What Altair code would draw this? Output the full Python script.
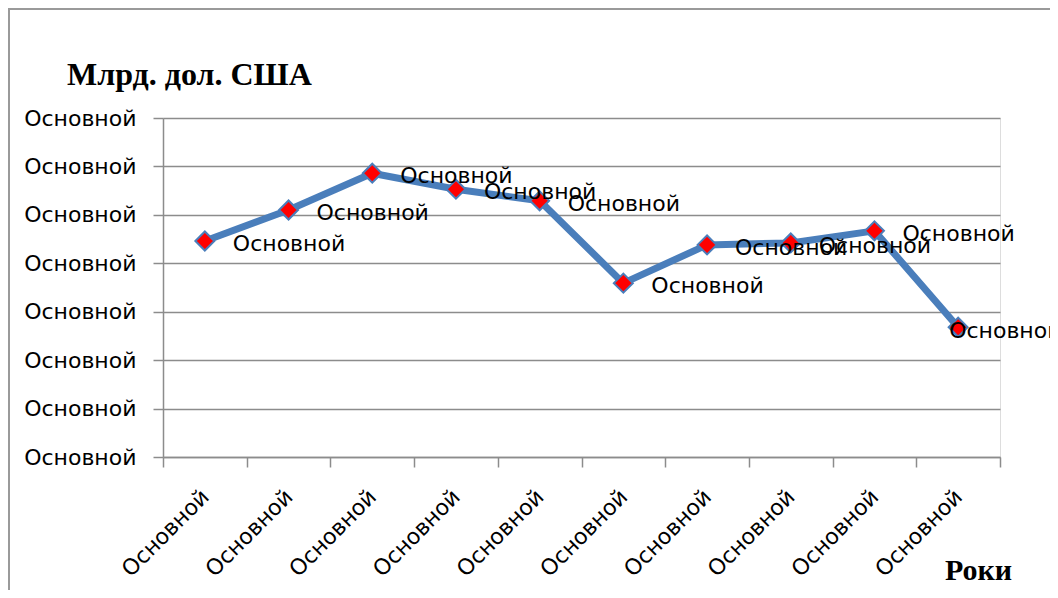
import altair as alt
import pandas as pd

categories = ["Основной"] * 10
values = [44.6, 51.0, 58.6, 55.3, 52.9, 35.9, 43.8, 44.2, 46.7, 26.8]
point_labels = ["Основной"] * 10
y_tick_values = [0, 10, 20, 30, 40, 50, 60, 70]
y_tick_label = "Основной"
y_title = "Млрд. дол. США"
x_title = "Роки"

df = pd.DataFrame({
    "idx": list(range(len(values))),
    "cat": categories,
    "value": values,
    "label": point_labels,
})

FONT = "DejaVu Sans"
SERIF = "Liberation Serif"
LINE_COLOR = "#4A7EBB"
GRID = "#8C8C8C"
FS = 22

x_enc = alt.X(
    "idx:O",
    sort=None,
    scale=alt.Scale(paddingInner=0, paddingOuter=0),
    axis=alt.Axis(
        title=None,
        labelExpr="datum.extra ? '' : 'Основной'",
        labelAngle=-45,
        labelAlign="right",
        labelBaseline="middle",
        labelPadding=26,
        labelFont=FONT,
        labelFontSize=FS,
        labelColor="#000000",
        tickSize=10,
        tickColor=GRID,
        tickWidth=1.5,
        tickBand="extent",
        domainColor=GRID,
        domainWidth=1.5,
        grid=False,
    ),
)
y_enc = alt.Y(
    "value:Q",
    scale=alt.Scale(domain=[0, 70], nice=False),
    axis=alt.Axis(
        title=None,
        values=y_tick_values,
        labelExpr="'" + y_tick_label + "'",
        labelFont=FONT,
        labelFontSize=FS,
        labelColor="#000000",
        labelPadding=17,
        tickSize=10,
        tickColor=GRID,
        tickWidth=1.5,
        domainColor=GRID,
        domainWidth=1.5,
        grid=True,
        gridColor=GRID,
        gridWidth=1.5,
    ),
)

base = alt.Chart(df)

line = base.mark_line(color=LINE_COLOR, strokeWidth=7, strokeJoin="round").encode(x=x_enc, y=y_enc)
points = base.mark_point(
    shape="diamond", filled=True, fill="#FF0000", stroke=LINE_COLOR, strokeWidth=2,
    size=360, opacity=1
).encode(x="idx:O", y="value:Q")

labels_main = base.transform_filter("datum.idx < 9").mark_text(
    align="left", baseline="middle", dx=28, dy=3, font=FONT, fontSize=FS, color="#000000"
).encode(x="idx:O", y="value:Q", text="label:N")
labels_last = base.transform_filter("datum.idx == 9").mark_text(
    align="left", baseline="middle", dx=-9, dy=4, font=FONT, fontSize=FS, color="#000000"
).encode(x="idx:O", y="value:Q", text="label:N")

frame = alt.Chart(pd.DataFrame({"a": [0]})).mark_rect(
    fill=None, stroke="#9A9A9A", strokeWidth=2
).encode(
    x=alt.value(-154), x2=alt.value(920), y=alt.value(-109), y2=alt.value(500)
)

title_txt = alt.Chart(pd.DataFrame({"t": [y_title]})).mark_text(
    align="left", baseline="alphabetic", font=SERIF, fontSize=32, fontWeight="bold", color="#000000"
).encode(x=alt.value(-96), y=alt.value(-33), text="t:N")

xtitle_txt = alt.Chart(pd.DataFrame({"t": [x_title]})).mark_text(
    align="left", baseline="alphabetic", font=SERIF, fontSize=30, fontWeight="bold", color="#000000"
).encode(x=alt.value(782), y=alt.value(462), text="t:N")

chart = alt.layer(frame, line, points, labels_main, labels_last, title_txt, xtitle_txt).properties(
    width=837,
    height=339,
    padding={"left": 155, "top": 110, "right": 50, "bottom": 133},
    autosize=alt.AutoSizeParams(type="none"),
).configure_view(stroke=None).configure(background="white")

chart.save("out.html", embed_options={"renderer": "svg", "actions": False})
